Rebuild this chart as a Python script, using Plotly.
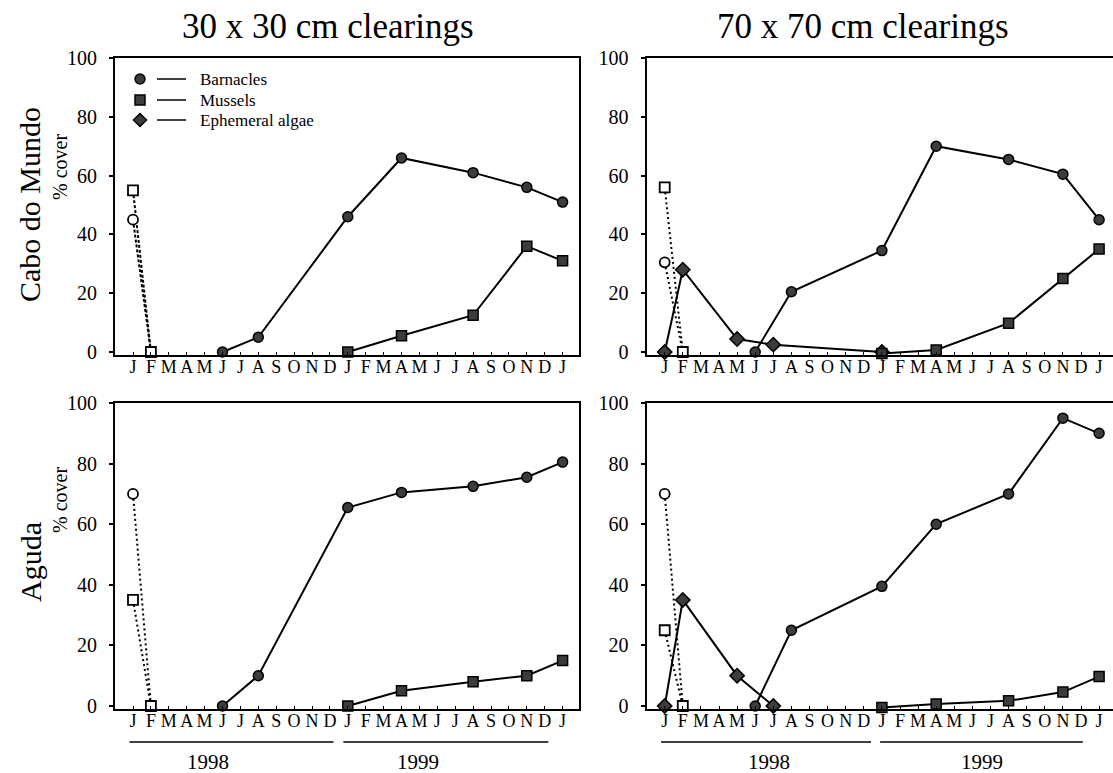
import plotly.graph_objects as go

W, H = 1113, 773
SERIF = "Liberation Serif, Times New Roman, serif"

# Month axis: 0 = January 1998 ... 24 = January 2000
MONTH_LABELS = list("JFMAMJJASOND") * 2 + ["J"]
MONTH_POS = list(range(25))

# Sampling dates (month index)
BARN_MONTHS = [5, 7, 12, 15, 19, 22, 24]
MUSS_MONTHS = [12, 15, 19, 22, 24]
ALGAE_MONTHS_CM = [0, 1, 4, 6, 12]
ALGAE_MONTHS_AG = [0, 1, 4, 6]

# Cover before clearing (Jan 1998) -> after clearing (Feb 1998)
START_MONTHS = [0, 1]

# Cabo do Mundo, 30 x 30 cm
cm30_start_barn = [45, 0]
cm30_start_muss = [55, 0]
cm30_barn = [0, 5, 46, 66, 61, 56, 51]
cm30_muss = [0, 5.5, 12.5, 36, 31]

# Cabo do Mundo, 70 x 70 cm
cm70_start_barn = [30.5, 0]
cm70_start_muss = [56, 0]
cm70_barn = [0, 20.5, 34.5, 70, 65.5, 60.5, 45]
cm70_muss = [-0.5, 0.7, 9.8, 25, 35]
cm70_algae = [0, 28, 4.4, 2.5, 0]

# Aguda, 30 x 30 cm
ag30_start_barn = [70, 0]
ag30_start_muss = [35, 0]
ag30_barn = [0, 10, 65.5, 70.5, 72.5, 75.5, 80.5]
ag30_muss = [0, 5, 8, 10, 15]

# Aguda, 70 x 70 cm
ag70_start_barn = [70, 0]
ag70_start_muss = [25, 0]
ag70_barn = [0, 25, 39.5, 60, 70, 95, 90]
ag70_muss = [-0.5, 0.7, 1.7, 4.6, 9.7]
ag70_algae = [0, 35, 10, 0]

Y_TICKS = [0, 20, 40, 60, 80, 100]
Y_MIN = -1
SPECIES = ["Barnacles", "Mussels", "Ephemeral algae"]
SYMBOLS = ["circle", "square", "diamond"]
YEARS = ["1998", "1999"]

FILL = "#3c3c3c"


def xdom(a, b):
    return [a / W, b / W]


def ydom(top_px, zero_px):
    # top_px: pixel row of 100 %, zero_px: pixel row of 0 %
    per_unit = (zero_px - top_px) / 100.0
    bottom_px = zero_px - Y_MIN * per_unit
    return [1 - bottom_px / H, 1 - top_px / H]


panels = [
    dict(ax="", px=(115, 579), m0=133, dm=17.9, py=(58, 352),
         sb=cm30_start_barn, sm=cm30_start_muss, barn=cm30_barn,
         muss=cm30_muss, algae=None, am=None, dash="3px,2px", right=False),
    dict(ax="2", px=(646.5, W), m0=664.7, dm=18.1, py=(58, 352),
         sb=cm70_start_barn, sm=cm70_start_muss, barn=cm70_barn,
         muss=cm70_muss, algae=cm70_algae, am=ALGAE_MONTHS_CM,
         dash="2px,3px", right=True),
    dict(ax="3", px=(115, 579), m0=133, dm=17.9, py=(403, 706),
         sb=ag30_start_barn, sm=ag30_start_muss, barn=ag30_barn,
         muss=ag30_muss, algae=None, am=None, dash="2px,3px", right=False),
    dict(ax="4", px=(646.5, W), m0=664.7, dm=18.1, py=(403, 706),
         sb=ag70_start_barn, sm=ag70_start_muss, barn=ag70_barn,
         muss=ag70_muss, algae=ag70_algae, am=ALGAE_MONTHS_AG,
         dash="2px,3px", right=True),
]

fig = go.Figure()
layout = dict(
    width=W, height=H,
    margin=dict(l=0, r=0, t=0, b=0, pad=0, autoexpand=False),
    paper_bgcolor="white", plot_bgcolor="rgba(0,0,0,0)",
    showlegend=False,
    font=dict(family=SERIF, color="black"),
)

solid_marker = dict(color=FILL, size=10, line=dict(color="black", width=1.5))
open_marker = dict(color="white", size=10, line=dict(color="black", width=1.8))

for p in panels:
    xa, ya = "x" + p["ax"], "y" + p["ax"]
    xkey, ykey = "xaxis" + p["ax"], "yaxis" + p["ax"]
    x0, x1 = p["px"]
    rng = [-(p["m0"] - x0) / p["dm"], (x1 - p["m0"]) / p["dm"]]
    layout[xkey] = dict(
        domain=xdom(x0, x1), range=rng, anchor=ya,
        tickmode="array", tickvals=MONTH_POS, ticktext=MONTH_LABELS,
        tickangle=0, ticks="inside", ticklen=3, tickwidth=1, tickcolor="black",
        tickfont=dict(size=18, family=SERIF, color="black"),
        showline=True, linewidth=2, linecolor="black", mirror=True,
        showgrid=False, zeroline=False, ticklabelstandoff=-6, automargin=False,
    )
    layout[ykey] = dict(
        domain=ydom(*p["py"]), range=[Y_MIN, 100], anchor=xa,
        tickmode="array", tickvals=Y_TICKS,
        ticks="outside", ticklen=4, tickwidth=1.5, tickcolor="black",
        tickfont=dict(size=20, family=SERIF, color="black"),
        showline=True, linewidth=2, linecolor="black",
        mirror=not p["right"], showgrid=False, zeroline=False,
        ticklabelstandoff=8, automargin=False,
    )
    common = dict(xaxis=xa, yaxis=ya, cliponaxis=False, hoverinfo="skip")

    # dotted drop from pre-clearing cover to the cleared state
    for ys in (p["sb"], p["sm"]):
        fig.add_trace(go.Scatter(x=START_MONTHS, y=ys, mode="lines",
                                 line=dict(color="black", width=2, dash=p["dash"]),
                                 **common))
    if p["algae"] is not None:
        fig.add_trace(go.Scatter(x=p["am"], y=p["algae"], mode="lines+markers",
                                 line=dict(color="black", width=2),
                                 marker=dict(symbol="diamond", **dict(solid_marker, size=11)),
                                 **common))
    fig.add_trace(go.Scatter(x=BARN_MONTHS, y=p["barn"], mode="lines+markers",
                             line=dict(color="black", width=2),
                             marker=dict(symbol="circle", **solid_marker), **common))
    fig.add_trace(go.Scatter(x=MUSS_MONTHS, y=p["muss"], mode="lines+markers",
                             line=dict(color="black", width=2),
                             marker=dict(symbol="square", **solid_marker), **common))
    # open symbols: pre-clearing cover
    fig.add_trace(go.Scatter(x=[START_MONTHS[0]], y=[p["sb"][0]], mode="markers",
                             marker=dict(symbol="circle", **open_marker), **common))
    fig.add_trace(go.Scatter(x=START_MONTHS, y=p["sm"], mode="markers",
                             marker=dict(symbol="square", **open_marker), **common))

# year bars beneath the bottom panels
year_spans = {
    "3": ([(-0.2, 11.2), (11.75, 23.2)], [4.2, 15.9]),
    "4": ([(-0.2, 11.4), (11.9, 23.1)], [5.75, 17.55]),
}
shapes, annotations = [], []
for ax, (spans, centers) in year_spans.items():
    for (a, b), c, yr in zip(spans, centers, YEARS):
        shapes.append(dict(type="line", xref="x" + ax, yref="paper",
                           x0=a, x1=b, y0=1 - 742 / H, y1=1 - 742 / H,
                           line=dict(color="black", width=1.5)))
        annotations.append(dict(xref="x" + ax, yref="paper", x=c, y=1 - 762 / H,
                                text=yr, showarrow=False, xanchor="center",
                                yanchor="middle",
                                font=dict(size=21, family=SERIF, color="black")))

# column titles
for txt, cx in (("30 x 30 cm clearings", 328), ("70 x 70 cm clearings", 863)):
    annotations.append(dict(xref="paper", yref="paper", x=cx / W, y=1 - 26 / H,
                            text=txt, showarrow=False, xanchor="center",
                            yanchor="middle",
                            font=dict(size=35, family=SERIF, color="black")))

# row titles and y-axis titles
for txt, cy in (("Cabo do Mundo", 205), ("Aguda", 562)):
    annotations.append(dict(xref="paper", yref="paper", x=30 / W, y=1 - cy / H,
                            text=txt, showarrow=False, textangle=-90,
                            xanchor="center", yanchor="middle",
                            font=dict(size=30, family=SERIF, color="black")))
for cy in (167, 500):
    annotations.append(dict(xref="paper", yref="paper", x=60 / W, y=1 - cy / H,
                            text="% cover", showarrow=False, textangle=-90,
                            xanchor="center", yanchor="middle",
                            font=dict(size=20, family=SERIF, color="black")))

# legend key, drawn on a pixel-space overlay axis
layout["xaxis5"] = dict(domain=[0, 1], range=[0, W], visible=False, anchor="y5")
layout["yaxis5"] = dict(domain=[0, 1], range=[H, 0], visible=False, anchor="x5")
key_rows = [79, 100, 120]
for name, sym, ky in zip(SPECIES, SYMBOLS, key_rows):
    fig.add_trace(go.Scatter(x=[140], y=[ky], mode="markers", xaxis="x5", yaxis="y5",
                             marker=dict(symbol=sym, **solid_marker), hoverinfo="skip"))
    fig.add_trace(go.Scatter(x=[157, 186], y=[ky, ky], mode="lines", xaxis="x5",
                             yaxis="y5", line=dict(color="black", width=1.5),
                             hoverinfo="skip"))
    annotations.append(dict(xref="x5", yref="y5", x=198, y=ky, text=name,
                            showarrow=False, xanchor="left", yanchor="middle",
                            font=dict(size=17, family=SERIF, color="black")))

layout["shapes"] = shapes
layout["annotations"] = annotations
fig.update_layout(**layout)
fig.write_html("out.html")
